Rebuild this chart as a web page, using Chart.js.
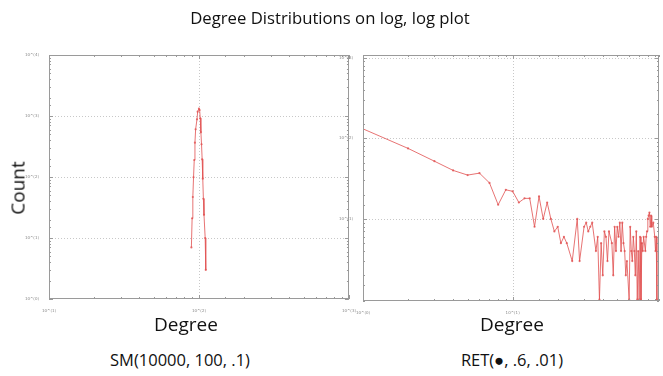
<!DOCTYPE html>
<html>
<head>
<meta charset="utf-8">
<script src="https://cdn.jsdelivr.net/npm/chart.js@4/dist/chart.umd.min.js"></script>
<style>
  body { margin: 0; background: #fff; }
  #wrap { position: relative; width: 663px; height: 376px; overflow: hidden; font-family: "Open Sans", sans-serif; color: #111; }
  canvas { position: absolute; top: 0; }
  #left { left: 0; }
  #right { left: 320px; }
  .txt { position: absolute; white-space: nowrap; transform: translateX(-50%); line-height: 1; }
  #title { left: 330px; top: 10px; font-size: 16.7px; }
  #count { left: 18px; top: 188px; font-size: 19px; transform: translate(-50%, -50%) rotate(-90deg); }
  .deg { top: 315px; font-size: 19px; }
  .cap { top: 352px; font-size: 16.5px; }
</style>
</head>
<body>
<div id="wrap">
  <canvas id="left" width="358" height="320"></canvas>
  <canvas id="right" width="343" height="320"></canvas>
  <div class="txt" id="title">Degree Distributions on log, log plot</div>
  <div class="txt" id="count">Count</div>
  <div class="txt deg" style="left:186px">Degree</div>
  <div class="txt deg" style="left:512px">Degree</div>
  <div class="txt cap" style="left:180px">SM(10000, 100, .1)</div>
  <div class="txt cap" style="left:512px">RET(●, .6, .01)</div>
</div>
<script>
// left panel: small-world degree counts
const SM_DEGREE = [89, 90, 91, 92, 93, 94, 95, 97, 98, 100, 101, 102, 103, 104, 105, 106, 107, 108, 110, 111];
const SM_COUNT  = [7, 21, 47, 99, 190, 365, 605, 883, 1176, 1318, 1254, 917, 540, 344, 195, 94, 44, 24, 10, 3];

// right panel: RET degree counts
const RET_DEGREE = [1, 2, 3, 4, 5, 6, 7, 8, 9, 10, 11, 12, 13, 14, 15, 16, 17, 18, 19, 20,
  21, 22, 23, 25, 27, 28, 30, 31, 32, 33, 34, 36, 37, 38, 39, 40, 41, 42, 43, 44,
  46, 47, 48, 49, 50, 51, 52, 53, 54, 55, 56, 57, 58, 60, 61, 62, 63, 64, 65, 66,
  67, 68, 69, 70, 71, 72, 73, 74, 75, 77, 78, 79, 80, 81, 82, 83, 84, 85, 87, 89,
  90, 91, 92];
const RET_COUNT = [131, 75, 52, 40, 35, 37, 28, 15, 23, 22, 16, 18, 18, 8, 19, 10, 16, 10, 7, 8,
  5, 6, 5, 3, 10, 3, 8, 9, 7, 8, 9, 4, 6, 1, 5, 2, 7, 6, 3, 7,
  5, 2, 8, 4, 8, 6, 9, 4, 9, 5, 4, 2, 3, 1, 8, 4, 3, 6, 4, 2,
  7, 1, 4, 1, 6, 1, 5, 4, 6, 4, 6, 7, 10, 11, 12, 8, 11, 8, 9, 6,
  4, 6, 1];

// decade tick labels
const SM_X_TICKS = [10, 100, 1000];
const SM_X_LABELS = ["10^(1)", "10^(2)", "10^(3)"];
const SM_Y_TICKS = [1, 10, 100, 1000, 10000];
const SM_Y_LABELS = ["10^(0)", "10^(1)", "10^(2)", "10^(3)", "10^(4)"];
const RET_X_TICKS = [1, 10];
const RET_X_LABELS = ["10^(0)", "10^(1)"];
const RET_Y_TICKS = [1, 10, 100, 1000];
const RET_Y_LABELS = ["10^(0)", "10^(1)", "10^(2)", "10^(3)"];

const LINE = "rgba(225, 80, 80, 0.8)";
const FRAME = "#9a9a9a";
const GRID = "#c8c8c8";

const isDecade = (v) => Math.abs(Math.log10(v) - Math.round(Math.log10(v))) < 1e-6;

function labelFor(ticks, labels) {
  return (v) => {
    const i = ticks.findIndex(t => Math.abs(Math.log10(v) - Math.log10(t)) < 1e-6);
    return i < 0 ? "" : labels[i];
  };
}

// Mathematica-style frame: dotted decade grid, box, inward ticks on all four sides
const frameTicks = {
  id: "frameTicks",
  beforeDatasetsDraw(chart) {
    const { ctx, chartArea: a, scales } = chart;
    ctx.save();
    ctx.strokeStyle = GRID;
    ctx.lineWidth = 1;
    ctx.setLineDash([1, 2]);
    ctx.beginPath();
    for (const t of scales.x.ticks) {
      const px = Math.round(scales.x.getPixelForValue(t.value)) + 0.5;
      if (!isDecade(t.value) || px < a.left + 2 || px > a.right - 2) continue;
      ctx.moveTo(px, a.top); ctx.lineTo(px, a.bottom);
    }
    for (const t of scales.y.ticks) {
      const py = Math.round(scales.y.getPixelForValue(t.value)) + 0.5;
      if (!isDecade(t.value) || py < a.top + 2 || py > a.bottom - 2) continue;
      ctx.moveTo(a.left, py); ctx.lineTo(a.right, py);
    }
    ctx.stroke();
    ctx.restore();
  },
  afterDraw(chart) {
    const { ctx, chartArea: a, scales } = chart;
    ctx.save();
    ctx.strokeStyle = FRAME;
    ctx.lineWidth = 1;
    ctx.strokeRect(Math.round(a.left) + 0.5, Math.round(a.top) + 0.5,
      Math.round(a.right - a.left) - 1, Math.round(a.bottom - a.top) - 1);
    ctx.beginPath();
    for (const t of scales.x.ticks) {
      const px = Math.round(scales.x.getPixelForValue(t.value)) + 0.5;
      const len = isDecade(t.value) ? 4 : 2;
      ctx.moveTo(px, a.bottom); ctx.lineTo(px, a.bottom - len);
      ctx.moveTo(px, a.top); ctx.lineTo(px, a.top + len);
    }
    for (const t of scales.y.ticks) {
      const py = Math.round(scales.y.getPixelForValue(t.value)) + 0.5;
      const len = isDecade(t.value) ? 4 : 2;
      ctx.moveTo(a.left, py); ctx.lineTo(a.left + len, py);
      ctx.moveTo(a.right, py); ctx.lineTo(a.right - len, py);
    }
    ctx.stroke();
    ctx.restore();
  }
};

function axis(min, max, ticks, labels, fit) {
  return {
    type: "logarithmic",
    min, max,
    afterFit: fit,
    border: { display: false },
    grid: { display: false },
    ticks: {
      autoSkip: false,
      maxRotation: 0,
      padding: 2,
      color: "#888",
      font: { size: 4, family: "DejaVu Sans" },
      callback: labelFor(ticks, labels),
    },
  };
}

function makeChart(id, xs, ys, xAxis, yAxis, padding) {
  return new Chart(document.getElementById(id), {
    type: "line",
    data: {
      datasets: [{
        data: xs.map((x, i) => ({ x, y: ys[i] })),
        borderColor: LINE,
        backgroundColor: LINE,
        borderWidth: 1,
        pointRadius: 1.1,
        pointBorderWidth: 0,
        tension: 0,
      }],
    },
    options: {
      responsive: false,
      animation: false,
      devicePixelRatio: 1,
      layout: { padding },
      plugins: { legend: { display: false }, tooltip: { enabled: false } },
      scales: { x: xAxis, y: yAxis },
    },
    plugins: [frameTicks],
  });
}

makeChart("left", SM_DEGREE, SM_COUNT,
  axis(10, 1000, SM_X_TICKS, SM_X_LABELS, (s) => { s.height = 21; }),
  axis(1, 10000, SM_Y_TICKS, SM_Y_LABELS, (s) => { s.width = 49; }),
  { top: 55, right: 8, left: 0, bottom: 0 });

makeChart("right", RET_DEGREE, RET_COUNT,
  axis(1, 95, RET_X_TICKS, RET_X_LABELS, (s) => { s.height = 19; }),
  axis(0.96, 1080, RET_Y_TICKS, RET_Y_LABELS, (s) => { s.width = 43; }),
  { top: 55, right: 4, left: 0, bottom: 0 });
</script>
</body>
</html>
